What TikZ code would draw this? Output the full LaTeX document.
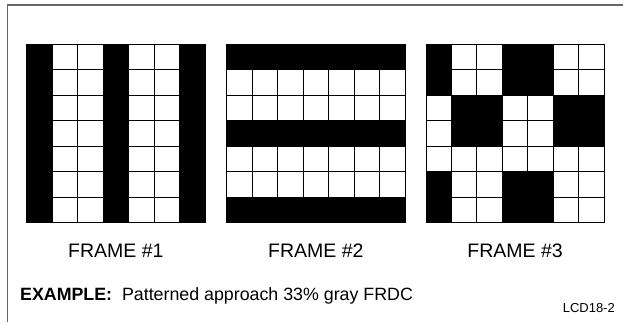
\documentclass[tikz,border=0pt]{standalone}
\usepackage{fontspec}
\setmainfont{Liberation Sans}
\tikzset{
  frameline/.style={draw=black!60, line width=1.2pt},
  gridline/.style={draw=black, line width=0.9pt},
  cellfill/.style={fill=black},
  caption/.style={font=\fontsize{19.5}{22}\selectfont, inner sep=0pt},
  note/.style={font=\fontsize{17.8}{20}\selectfont, inner sep=0pt},
}
% one 7x7 grid of cells: #1 = left edge, #2 = top edge
\newcommand{\cellgrid}[2]{%
  \foreach \k in {0,...,7}{
    \draw[gridline] ({#1+\k*25.47},#2) -- ({#1+\k*25.47},{#2+178.3});
    \draw[gridline] (#1,{#2+\k*25.47}) -- ({#1+178.3},{#2+\k*25.47});
  }%
}
\begin{document}
\begin{tikzpicture}[x=1pt,y=-1pt]
\useasboundingbox (0,0) rectangle (623,322);
\fill[white] (0,0) rectangle (623,322);

% outer frame (left and top edges only)
\draw[frameline] (7.5,322) -- (7.5,5) -- (623,5);

% frame 1: black columns 1, 4 and 7
\foreach \c in {0,3,6}
  \fill[cellfill] ({26.7+\c*25.47},44.3) rectangle ++(25.47,178.3);
\cellgrid{26.7}{44.3}

% frame 2: black rows 1, 4 and 7
\foreach \r in {0,3,6}
  \fill[cellfill] (226.7,{44.3+\r*25.47}) rectangle ++(178.3,25.47);
\cellgrid{226.7}{44.3}

% frame 3: black blocks
\foreach \c/\r/\w in {0/0/1, 3/0/2, 1/2/2, 5/2/2, 0/5/1, 3/5/2}
  \fill[cellfill] ({426+\c*25.47},{44.3+\r*25.47}) rectangle ++({\w*25.47},50.94);
\cellgrid{426}{44.3}

% captions
\node[caption, anchor=base] (f1) at (115.85,257.5) {FRAME \#1};
\node[caption, anchor=base] (f2) at (315.85,257.5) {FRAME \#2};
\node[caption, anchor=base] (f3) at (515.15,257.5) {FRAME \#3};
\node[note, anchor=base west] (ex) at (20,300)
  {\textbf{EXAMPLE:}\ \ Patterned approach 33\% gray FRDC};
\node[font=\fontsize{13}{15}\selectfont, inner sep=0pt, anchor=base east] (id) at (615,312) {LCD18-2};
\end{tikzpicture}
\end{document}
